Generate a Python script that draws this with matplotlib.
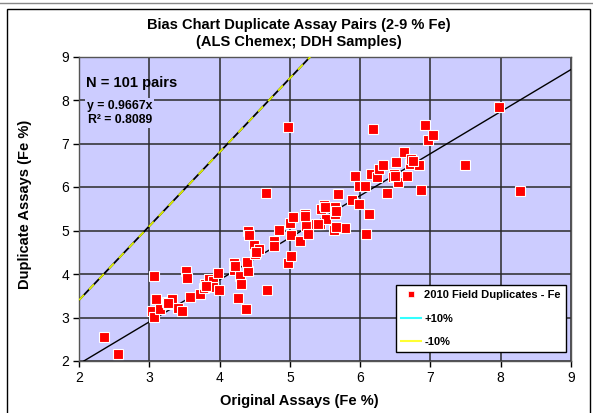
import matplotlib
matplotlib.use("Agg")
import matplotlib.pyplot as plt
from matplotlib.lines import Line2D
from matplotlib.patches import Rectangle
import numpy as np

plt.rcParams['font.family'] = ['Liberation Sans', 'DejaVu Sans']

title = "Bias Chart Duplicate Assay Pairs (2-9 % Fe)\n(ALS Chemex; DDH Samples)"
xlabel = "Original Assays (Fe %)"
ylabel = "Duplicate Assays (Fe %)"
series_label = "2010 Field Duplicates - Fe"
plus_label = "+10%"
minus_label = "-10%"
n_text = "N = 101 pairs"
eq_text = "y = 0.9667x\nR\u00b2 = 0.8089"
slope = 0.9667
bias_slope = 1.7

original = [2.35, 2.55, 3.07, 3.09, 3.04, 3.07, 3.15, 3.25, 3.26, 3.32,
            3.41, 3.46, 3.52, 3.54, 3.58, 3.72, 3.78, 3.79, 3.85, 3.90,
            3.91, 3.99, 3.98, 4.21, 4.21, 4.26, 4.29, 4.31, 4.37, 4.40,
            4.39, 4.40, 4.42, 4.49, 4.51, 4.56, 4.66, 4.67, 4.77, 4.78,
            4.84, 4.98, 5.01, 5.00, 5.01, 5.04, 5.15, 5.21, 5.23, 5.26,
            5.37, 5.43, 5.45, 5.48, 5.51, 5.64, 5.64, 5.63, 5.78, 5.68,
            5.89, 5.92, 5.99, 5.98, 6.07, 6.12, 6.08, 6.16, 6.24, 6.27,
            6.32, 6.38, 6.19, 6.48, 6.47, 6.51, 6.54, 6.63, 6.66, 6.71,
            6.73, 6.84, 6.86, 6.92, 6.97, 7.03, 7.49, 7.97, 8.28, 4.98,
            3.80, 4.22, 5.40, 5.66, 6.50, 3.27, 5.21, 4.52, 5.50, 6.75,
            5.65]
duplicate = [2.55, 2.15, 3.95, 3.43, 3.14, 3.01, 3.19, 3.36, 3.30, 3.43,
             3.21, 3.15, 4.06, 3.91, 3.48, 3.54, 3.68, 3.78, 3.89, 3.83,
             3.70, 3.63, 4.03, 4.26, 4.10, 3.44, 3.96, 3.78, 3.19, 4.07,
             4.27, 4.98, 4.90, 4.67, 4.46, 4.57, 5.86, 3.63, 4.75, 4.65,
             5.01, 4.25, 4.41, 5.17, 4.89, 5.30, 4.77, 5.37, 5.10, 4.91,
             5.14, 5.14, 5.49, 5.58, 5.27, 5.53, 5.39, 5.02, 5.05, 5.84,
             5.70, 6.26, 5.61, 6.02, 6.02, 5.39, 4.92, 6.31, 6.22, 6.41,
             6.50, 5.86, 7.34, 6.29, 6.23, 6.58, 6.11, 6.81, 6.26, 6.52,
             6.65, 6.51, 5.94, 7.42, 7.08, 7.20, 6.51, 7.83, 5.91, 7.37,
             3.72, 4.18, 5.16, 5.45, 6.26, 3.33, 5.33, 4.50, 5.55, 6.60,
             5.07]

W, H = 593, 413
fig = plt.figure(figsize=(W / 100, H / 100), dpi=100)
fig.patch.set_facecolor('white')

# outer frame
fig.add_artist(Line2D([0, 1], [1 - 2.5 / H, 1 - 2.5 / H], color='#888888', lw=1.0,
                      transform=fig.transFigure))
fig.add_artist(Rectangle((7 / W, -0.05), (590 - 7) / W, 1.05 - 9 / H,
                         transform=fig.transFigure, fill=False,
                         edgecolor='black', lw=1.0))

ax = fig.add_axes([79 / W, 1 - 361 / H, (571 - 79) / W, (361 - 56.5) / H])
ax.set_facecolor('#CCCCFF')
ax.set_xlim(2, 9)
ax.set_ylim(2, 9)
ax.set_xticks(np.arange(2, 10, 1))
ax.set_yticks(np.arange(2, 10, 1))
ax.grid(True, color='#2a2a2a', lw=1.1)
ax.set_axisbelow(True)
for s in ax.spines.values():
    s.set_color('#555555')
    s.set_linewidth(1.0)
ax.tick_params(direction='out', length=4, width=1, colors='black',
               labelsize=10, pad=3)

xs = np.array([2, 9])
# bias lines (+10% / -10% overlapping)
ax.plot(xs, bias_slope * xs, color='black', lw=1.3, zorder=3)
ax.plot(xs, bias_slope * xs, color='#DDEE00', lw=1.3, dashes=(4, 4), zorder=3)
# regression line
ax.plot(xs, slope * xs, color='black', lw=1.0, zorder=3)

ax.plot(original, duplicate, 's', color='#FF0000', markersize=7.8,
        markeredgecolor='white', markeredgewidth=0.8, zorder=4)

# titles centred on the chart area (Excel style)
cx = 299 / W
fig.text(cx, 1 - 33.5 / H, title, fontsize=10.5, fontweight='bold',
         ha='center', va='center', linespacing=1.2)
fig.text(cx, 1 - 401.5 / H, xlabel, fontsize=10.5, fontweight='bold',
         ha='center', va='center')
fig.text(25 / W, 1 - 204 / H, ylabel, fontsize=10.5, fontweight='bold',
         ha='center', va='center', rotation=90)

fig.text(86 / W, 1 - 83.5 / H, n_text, fontsize=10.6,
         fontweight='bold', va='center', ha='left')
fig.text(87 / W, 1 - 113 / H, eq_text, fontsize=8.8,
         fontweight='bold', va='center', ha='left', multialignment='center',
         linespacing=1.2,
         bbox=dict(boxstyle='square,pad=0.15', facecolor='#CCCCFF',
                   edgecolor='none'))

handles = [
    Line2D([], [], marker='s', ls='none', color='#FF0000', markersize=5,
           markeredgecolor='white', markeredgewidth=0.5),
    Line2D([], [], color='#33FFFF', lw=1.5),
    Line2D([], [], color='#FFFF33', lw=1.5),
]
leg = ax.legend(handles, [series_label, plus_label, minus_label],
                loc='lower right',
                bbox_to_anchor=((566 - 79) / 492, (361 - 352) / 304.5),
                borderaxespad=0.0,
                fontsize=8, frameon=True, fancybox=False,
                edgecolor='black', facecolor='white', framealpha=1,
                handlelength=1.8, labelspacing=1.2, borderpad=0.45,
                handletextpad=0.3)
leg.get_frame().set_linewidth(1.0)
for t in leg.get_texts():
    t.set_fontweight('bold')

fig.savefig('out.png', dpi=100)
